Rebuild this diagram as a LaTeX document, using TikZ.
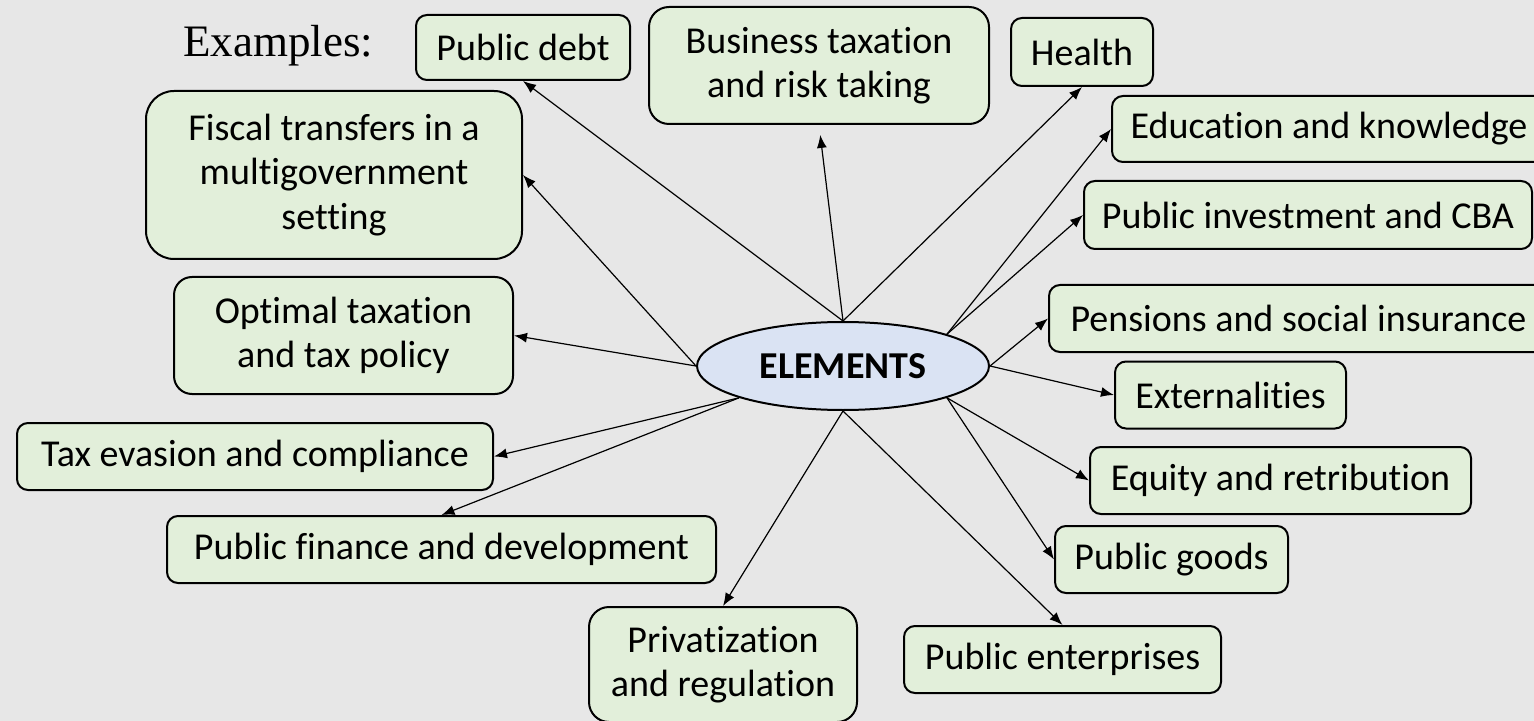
\documentclass[tikz,border=0pt]{standalone}
\usepackage{fontspec}
\setmainfont{Carlito}[RawFeature = {-liga;-calt;-clig}]
\newfontfamily\examplesfont{Liberation Serif}
\usetikzlibrary{shapes.geometric, arrows.meta}

\definecolor{bggray}{HTML}{E7E7E7}
\definecolor{boxgreen}{HTML}{E2EFDA}
\definecolor{hubblue}{HTML}{DAE3F3}

\tikzset{
	topic/.style = {draw, line width = 1pt, fill = boxgreen, rounded corners = 5.5pt, align = center, inner sep = 0pt},
	hub/.style = {draw, ellipse, line width = 1pt, fill = hubblue, inner sep = 0pt, font = \fontsize{19}{22.5}\selectfont\bfseries}
}

\begin{document}
\begin{tikzpicture}[x = 0.5pt, y = -0.5pt, font = \fontsize{19}{22.3}\selectfont]

	% Slide background
	
	\fill [bggray] (0, 0) rectangle (1534, 721);
	\clip (0, 0) rectangle (1534, 721);
	
	\node [anchor = base, font = \examplesfont\fontsize{22.5}{27}\selectfont] (ex) at (278, 57) {Examples:};

	% Central ellipse
	
	\node [hub, minimum width = 146pt, minimum height = 44pt] (el) at (843, 366) {ELEMENTS};

	% Topics, upper half
	
	\node [topic, minimum width = 107pt, minimum height = 32.5pt] (pd) at (523, 47.5) {Public debt};
	\node [topic, minimum width = 170pt, minimum height = 58.5pt, rounded corners = 10pt] (bt) at (819, 65.5) {Business taxation\\and risk taking};
	\node [topic, minimum width = 71pt, minimum height = 34pt] (he) at (1082, 52) {Health};
	\node [topic, minimum width = 217pt, minimum height = 33pt] (ed) at (1329, 129) {Education and knowledge};
	\node [topic, minimum width = 224pt, minimum height = 34pt] (pi) at (1308, 215) {Public investment and CBA};
	\node [topic, minimum width = 188pt, minimum height = 84pt, rounded corners = 14pt] (ft) at (334, 175) {Fiscal transfers in a\\multigovernment\\setting};
	\node [topic, minimum width = 169.5pt, minimum height = 58.5pt, rounded corners = 9pt] (ot) at (343.5, 335.5) {Optimal taxation\\and tax policy};
	\node [topic, minimum width = 249.5pt, minimum height = 33.5pt] (pen) at (1298.5, 318.5) {Pensions and social insurance};

	% Topics, lower half
	
	\node [topic, minimum width = 115.5pt, minimum height = 33.5pt] (ext) at (1230.5, 395) {Externalities};
	\node [topic, minimum width = 238pt, minimum height = 33.5pt] (te) at (255, 456.5) {Tax evasion and compliance};
	\node [topic, minimum width = 190.5pt, minimum height = 33.5pt] (eq) at (1280.5, 480.5) {Equity and retribution};
	\node [topic, minimum width = 274.5pt, minimum height = 33.5pt] (pf) at (441.5, 549.5) {Public finance and development};
	\node [topic, minimum width = 116.5pt, minimum height = 33.5pt] (pg) at (1171.5, 559.5) {Public goods};
	\node [topic, minimum width = 134pt, minimum height = 57.5pt, rounded corners = 10pt] (pr) at (723, 664.5) {Privatization\\and regulation};
	\node [topic, minimum width = 158.5pt, minimum height = 33.5pt] (pe) at (1062.5, 659.5) {Public enterprises};

	% Arrows from the ellipse to every topic
	
	\begin{scope}[> = {Latex[length = 6.5pt, width = 5pt]}, line width = 0.6pt, ->]
	
		\draw (el.north) -- (pd.south);
		\draw [shorten > = 5pt] (el.north) -- (bt.south);
		\draw (el.north) -- (he.south);
		\draw (el.north east) -- (ed.west);
		\draw (el.north east) -- (pi.west);
		\draw (el.west) -- (ft.east);
		\draw (el.west) -- (ot.east);
		\draw (el.east) -- (pen.west);
		\draw (el.east) -- (ext.west);
		\draw (el.south west) -- (te.east);
		\draw (el.south west) -- (pf.north);
		\draw (el.south east) -- (eq.west);
		\draw (el.south east) -- (pg.west);
		\draw (el.south) -- (pr.north);
		\draw (el.south) -- (pe.north);
	
	\end{scope}

\end{tikzpicture}
\end{document}
